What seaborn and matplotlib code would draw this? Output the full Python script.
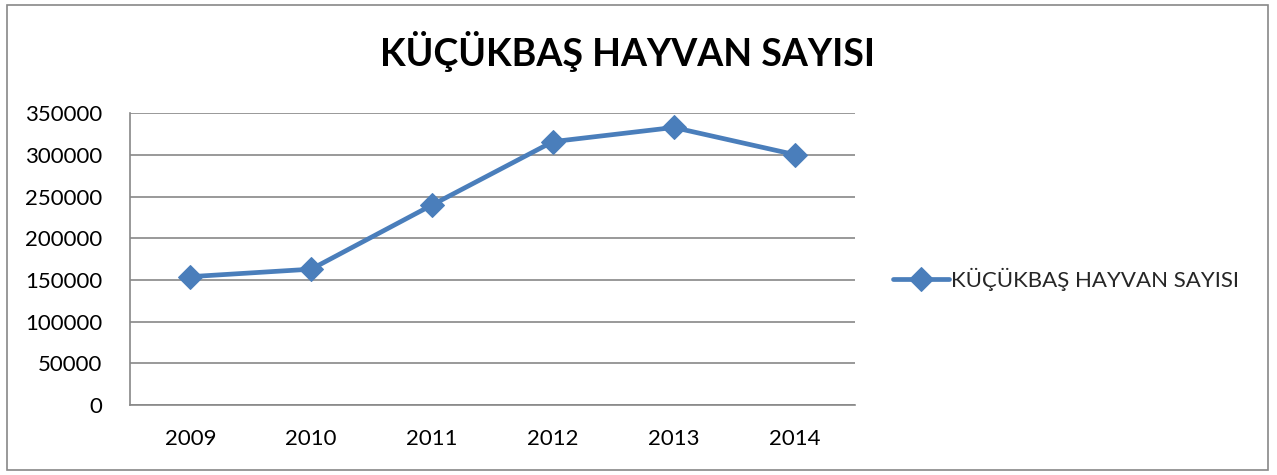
import matplotlib
matplotlib.use("Agg")
import matplotlib.pyplot as plt
import seaborn as sns
import pandas as pd
from matplotlib.patches import Rectangle

# Data
years = ["2009", "2010", "2011", "2012", "2013", "2014"]
counts = [154000, 163000, 240000, 316000, 333000, 300500]
series_name = "KÜÇÜKBAŞ HAYVAN SAYISI"

sns.set_style("white")
plt.rcParams['font.family'] = ['Lato', 'DejaVu Sans']

df = pd.DataFrame({"year": years, "count": counts})

fig = plt.figure(figsize=(12.77, 4.75), dpi=100)
ax = fig.add_axes([130 / 1277, 1 - 405 / 475, 725 / 1277, (405 - 113.3) / 475])

line_color = "#4A7EBB"
sns.lineplot(data=df, x="year", y="count", ax=ax, color=line_color, linewidth=3.4,
             marker="D", markersize=12.5, markeredgecolor=line_color, label=series_name,
             sort=False)

ax.set_xlim(-0.5, len(years) - 0.5)
ax.set_ylim(0, 350000)
ax.set_yticks(range(0, 350001, 50000))
ax.set_yticklabels([str(v) for v in range(0, 350001, 50000)], fontsize=16, color="black")
ax.set_xticks(range(len(years)))
ax.set_xticklabels(years, fontsize=16, color="black")
ax.set_xticks([i - 0.5 for i in range(len(years) + 1)], minor=True)
ax.tick_params(axis="x", which="major", length=0, pad=17)
ax.tick_params(axis="x", which="minor", length=6, color="#888888", width=1.2)
ax.tick_params(axis="y", length=7, color="#888888", width=1.2, pad=13)
ax.set_xlabel("")
ax.set_ylabel("")

ax.grid(axis="y", color="#888888", linewidth=1.2)
ax.set_axisbelow(True)
for side in ["top", "right"]:
    ax.spines[side].set_visible(False)
for side in ["left", "bottom"]:
    ax.spines[side].set_color("#888888")
    ax.spines[side].set_linewidth(1.2)

ax.get_legend().remove()
handles, labels = ax.get_legend_handles_labels()
fig.legend(handles, labels, loc="center left", bbox_to_anchor=(893 / 1277, 1 - 279 / 475),
           frameon=False, fontsize=16, handlelength=2.5, handletextpad=0.1,
           borderaxespad=0, borderpad=0)

fig.text(627 / 1277, 1 - 51 / 475, "KÜÇÜKBAŞ HAYVAN SAYISI", ha="center", va="center",
         fontsize=27, fontweight="bold", color="black")

# chart area border
fig.patches.append(Rectangle((7 / 1277, 5 / 475), 1261 / 1277, 465 / 475,
                             transform=fig.transFigure, fill=False,
                             edgecolor="#888888", linewidth=1.2))

fig.savefig("out.png", dpi=100)
